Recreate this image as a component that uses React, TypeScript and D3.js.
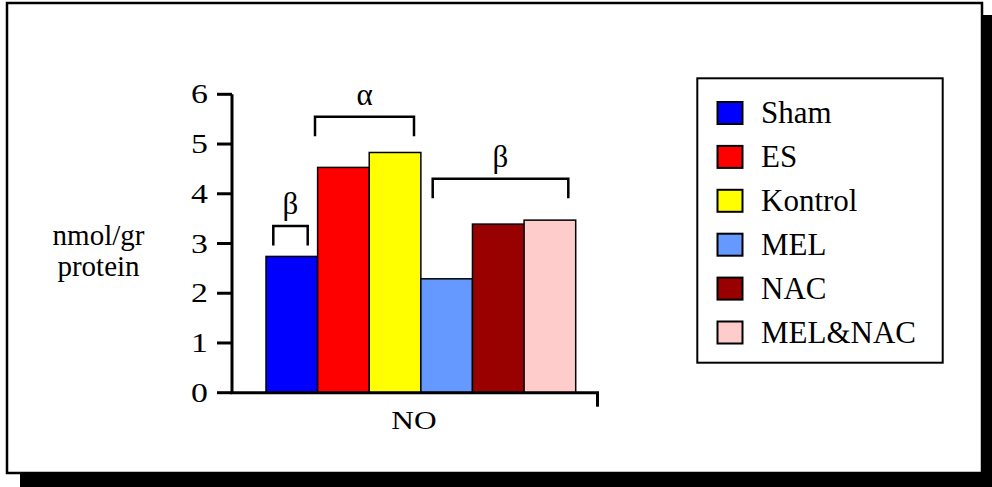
import React from "react";
import * as d3 from "d3";

const categories = ["Sham", "ES", "Kontrol", "MEL", "NAC", "MEL&NAC"];
const values = [2.74, 4.53, 4.83, 2.29, 3.39, 3.47];
const colors = ["#0000ff", "#ff0000", "#ffff00", "#6699ff", "#990000", "#ffcccc"];
const yTicks = [0, 1, 2, 3, 4, 5, 6];
const groupLabel = "NO";
const yTitle = ["nmol/gr", "protein"];
// brackets: [from category index, to category index, level value, label]
const brackets: [number, number, number, string][] = [
  [0, 0, 3.35, "β"],
  [1, 2, 5.55, "α"],
  [3, 5, 4.3, "β"],
];

const W = 992;
const H = 487;
const FONT = "Liberation Serif";

export default function App() {
  const y = d3.scaleLinear().domain([0, 6]).range([392.7, 94.3]);
  const x = d3.scaleBand<string>().domain(categories).range([266, 575.7]).padding(0);
  const axisLeft = 232;
  const axisRight = 599;
  const bw = x.bandwidth();

  const bracketGeom = [
    { x1: 273.3, x2: 307.7, legDrop: 19.5 },
    { x1: 315, x2: 414, legDrop: 19.5 },
    { x1: 432.7, x2: 568.3, legDrop: 19.5 },
  ];

  const ts = { fontFamily: FONT };

  return (
    <svg width={W} height={H} style={{ position: "absolute", left: 0, top: 0 }}>
      {/* frame shadow and frame */}
      <rect x={20} y={15} width={972} height={472} fill="#000" />
      <rect x={7} y={3} width={975} height={470} fill="#fff" stroke="#000" strokeWidth={2.5} />

      {/* bars */}
      {categories.map((c, i) => (
        <rect
          key={c}
          x={x(c)}
          y={y(values[i])}
          width={bw}
          height={y(0) - y(values[i])}
          fill={colors[i]}
          stroke="#000"
          strokeWidth={1.5}
        />
      ))}

      {/* axes */}
      <line x1={axisLeft} y1={y(6)} x2={axisLeft} y2={y(0)} stroke="#000" strokeWidth={3} />
      <line x1={axisLeft - 1.5} y1={y(0)} x2={axisRight} y2={y(0)} stroke="#000" strokeWidth={3} />
      <line x1={axisRight - 1.5} y1={y(0)} x2={axisRight - 1.5} y2={y(0) + 14} stroke="#000" strokeWidth={3} />
      {yTicks.map((t) => (
        <g key={t}>
          <line x1={axisLeft - 15} y1={y(t)} x2={axisLeft} y2={y(t)} stroke="#000" strokeWidth={3} />
          <text
            transform={`translate(208,${y(t) + 9}) scale(1.25,1)`}
            textAnchor="end"
            fontSize={27}
            fill="#000"
            style={ts}
          >
            {t}
          </text>
        </g>
      ))}
      <text
        transform={`translate(414,429) scale(1.28,1)`}
        textAnchor="middle"
        fontSize={24.5}
        fill="#000"
        style={ts}
      >
        {groupLabel}
      </text>

      {/* y title */}
      {yTitle.map((t, i) => (
        <text key={t} x={98.5} y={245 + i * 31} textAnchor="middle" fontSize={29} fill="#000" style={ts}>
          {t}
        </text>
      ))}

      {/* significance brackets */}
      {brackets.map(([a, b, lvl, label], i) => {
        const g = bracketGeom[i];
        const yy = y(lvl);
        return (
          <g key={i}>
            <path
              d={`M${g.x1},${yy + g.legDrop}V${yy}H${g.x2}V${yy + g.legDrop}`}
              fill="none"
              stroke="#000"
              strokeWidth={2.5}
            />
            <text
              x={(g.x1 + g.x2) / 2}
              y={yy - 12}
              textAnchor="middle"
              fontSize={31}
              fill="#000"
              style={ts}
            >
              {label}
            </text>
          </g>
        );
      })}

      {/* legend */}
      <rect x={697.3} y={78.3} width={245.4} height={284.4} fill="#fff" stroke="#000" strokeWidth={2} />
      {categories.map((c, i) => {
        const cy = 113 + i * 43.9;
        return (
          <g key={c}>
            <rect x={717.5} y={cy - 11} width={25} height={22} fill={colors[i]} stroke="#000" strokeWidth={2} />
            <text x={761} y={cy + 10} fontSize={31} fill="#000" style={ts}>
              {c}
            </text>
          </g>
        );
      })}
    </svg>
  );
}
